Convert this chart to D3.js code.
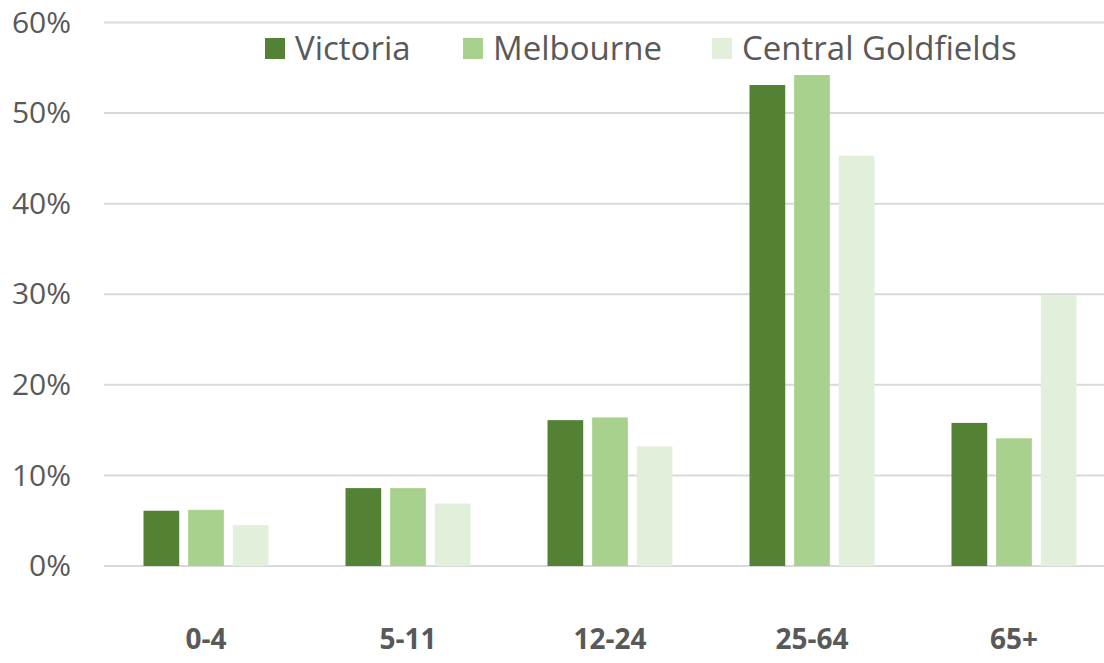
<!DOCTYPE html>
<html>
<head>
<meta charset="utf-8">
<script src="https://cdn.jsdelivr.net/npm/d3@7"></script>
<style>
  html, body { margin: 0; padding: 0; background: #fff; overflow: hidden; }
  svg { display: block; font-family: "Open Sans", Lato, sans-serif; }
</style>
</head>
<body>
<svg id="chart" width="1104" height="663"></svg>
<script>
// Age groups and share of population per region
const categories = ["0-4", "5-11", "12-24", "25-64", "65+"];
const seriesNames = ["Victoria", "Melbourne", "Central Goldfields"];
const victoria = [6.1, 8.6, 16.1, 53.1, 15.8];
const melbourne = [6.2, 8.6, 16.4, 54.2, 14.1];
const centralGoldfields = [4.5, 6.9, 13.2, 45.3, 29.9];
const colors = ["#548235", "#A9D18E", "#E2EFDA"];
const yTicks = [0, 10, 20, 30, 40, 50, 60];

const seriesValues = [victoria, melbourne, centralGoldfields];
const FONT = "'Open Sans', Lato, sans-serif";

const svg = d3.select("#chart");
const W = 1104;

const x0 = d3.scaleBand().domain(categories).range([105, 1115]).padding(0);
const groupWidth = 125;
const x1 = d3.scaleBand().domain(seriesNames).range([0, groupWidth]).paddingInner(0.2);
const y = d3.scaleLinear().domain([0, 60]).range([566, 22.5]);

// Gridlines
svg.append("g")
  .selectAll("line")
  .data(yTicks)
  .join("line")
  .attr("x1", 104).attr("x2", W)
  .attr("y1", d => y(d)).attr("y2", d => y(d))
  .attr("stroke", "#d9d9d9")
  .attr("stroke-width", 2);

// Y axis labels
const yAxis = d3.axisLeft(y).tickValues(yTicks).tickFormat(d => d + "%").tickSize(0).tickPadding(0);
svg.append("g")
  .attr("transform", "translate(71,0)")
  .call(yAxis)
  .call(g => g.select(".domain").remove())
  .call(g => g.selectAll("text")
    .attr("fill", "#595959")
    .attr("font-size", 30)
    .attr("font-family", FONT));

// Bars
const groups = svg.append("g")
  .selectAll("g")
  .data(categories)
  .join("g")
  .attr("transform", d => `translate(${x0(d) + (x0.bandwidth() - groupWidth) / 2},0)`);

groups.selectAll("rect")
  .data((c, i) => seriesNames.map((s, k) => ({ s, v: seriesValues[k][i], k })))
  .join("rect")
  .attr("x", d => x1(d.s))
  .attr("width", x1.bandwidth())
  .attr("y", d => y(d.v))
  .attr("height", d => y(0) - y(d.v))
  .attr("fill", d => colors[d.k]);

// Category labels
const xAxis = d3.axisBottom(x0).tickSize(0).tickPadding(0);
svg.append("g")
  .attr("transform", "translate(0,629)")
  .call(xAxis)
  .call(g => g.select(".domain").remove())
  .call(g => g.selectAll("text")
    .attr("fill", "#595959")
    .attr("font-size", 28)
    .attr("font-weight", "bold")
    .attr("font-family", FONT));

// Legend
const legendX = [265, 463, 712];
const legend = svg.append("g")
  .selectAll("g")
  .data(seriesNames)
  .join("g")
  .attr("transform", (d, i) => `translate(${legendX[i]},38)`);
legend.append("rect")
  .attr("width", 20).attr("height", 21)
  .attr("fill", (d, i) => colors[i]);
legend.append("text")
  .attr("x", 30).attr("y", 22)
  .attr("font-size", 33)
  .attr("font-family", FONT)
  .attr("fill", "#595959")
  .text(d => d);
</script>
</body>
</html>
